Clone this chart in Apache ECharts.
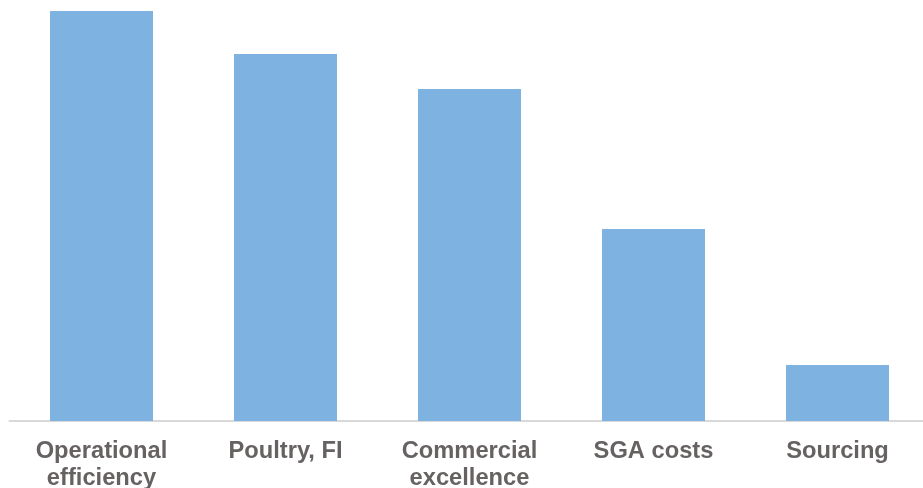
<!DOCTYPE html>
<html>
<head>
<meta charset="utf-8">
<script src="https://cdn.jsdelivr.net/npm/echarts@6/dist/echarts.min.js"></script>
<style>
  html, body { margin: 0; padding: 0; background: #ffffff; }
  #chart { width: 923px; height: 488px; }
</style>
</head>
<body>
<div id="chart"></div>
<script>
// Improvement levers and their relative contribution
const categories = ['Operational\nefficiency', 'Poultry, FI', 'Commercial\nexcellence', 'SGA costs', 'Sourcing'];
const values = [41.0, 36.7, 33.2, 19.2, 5.6];

const chart = echarts.init(document.getElementById('chart'), null, { renderer: 'canvas' });

chart.setOption({
  animation: false,
  backgroundColor: '#ffffff',
  // plot area runs a little past the right edge of the canvas;
  // labels are allowed to sit outside it without shrinking the grid
  grid: { left: 9.5, width: 920, top: 0, height: 421, containLabel: false, outerBoundsMode: 'none' },
  xAxis: {
    type: 'category',
    data: categories,
    axisLine: { show: true, lineStyle: { color: '#d9d9d9', width: 2 } },
    axisTick: { show: false },
    axisLabel: {
      interval: 0,
      margin: 17,
      color: '#676262',
      fontFamily: 'Liberation Sans, Arial, sans-serif',
      fontWeight: 'bold',
      fontSize: 23.7,
      lineHeight: 27
    }
  },
  yAxis: {
    type: 'value',
    min: 0,
    max: 42.1,
    show: false,
    splitLine: { show: false }
  },
  series: [{
    type: 'bar',
    data: values,
    barWidth: 103,
    itemStyle: { color: '#7eb2e0' }
  }]
});
</script>
</body>
</html>
